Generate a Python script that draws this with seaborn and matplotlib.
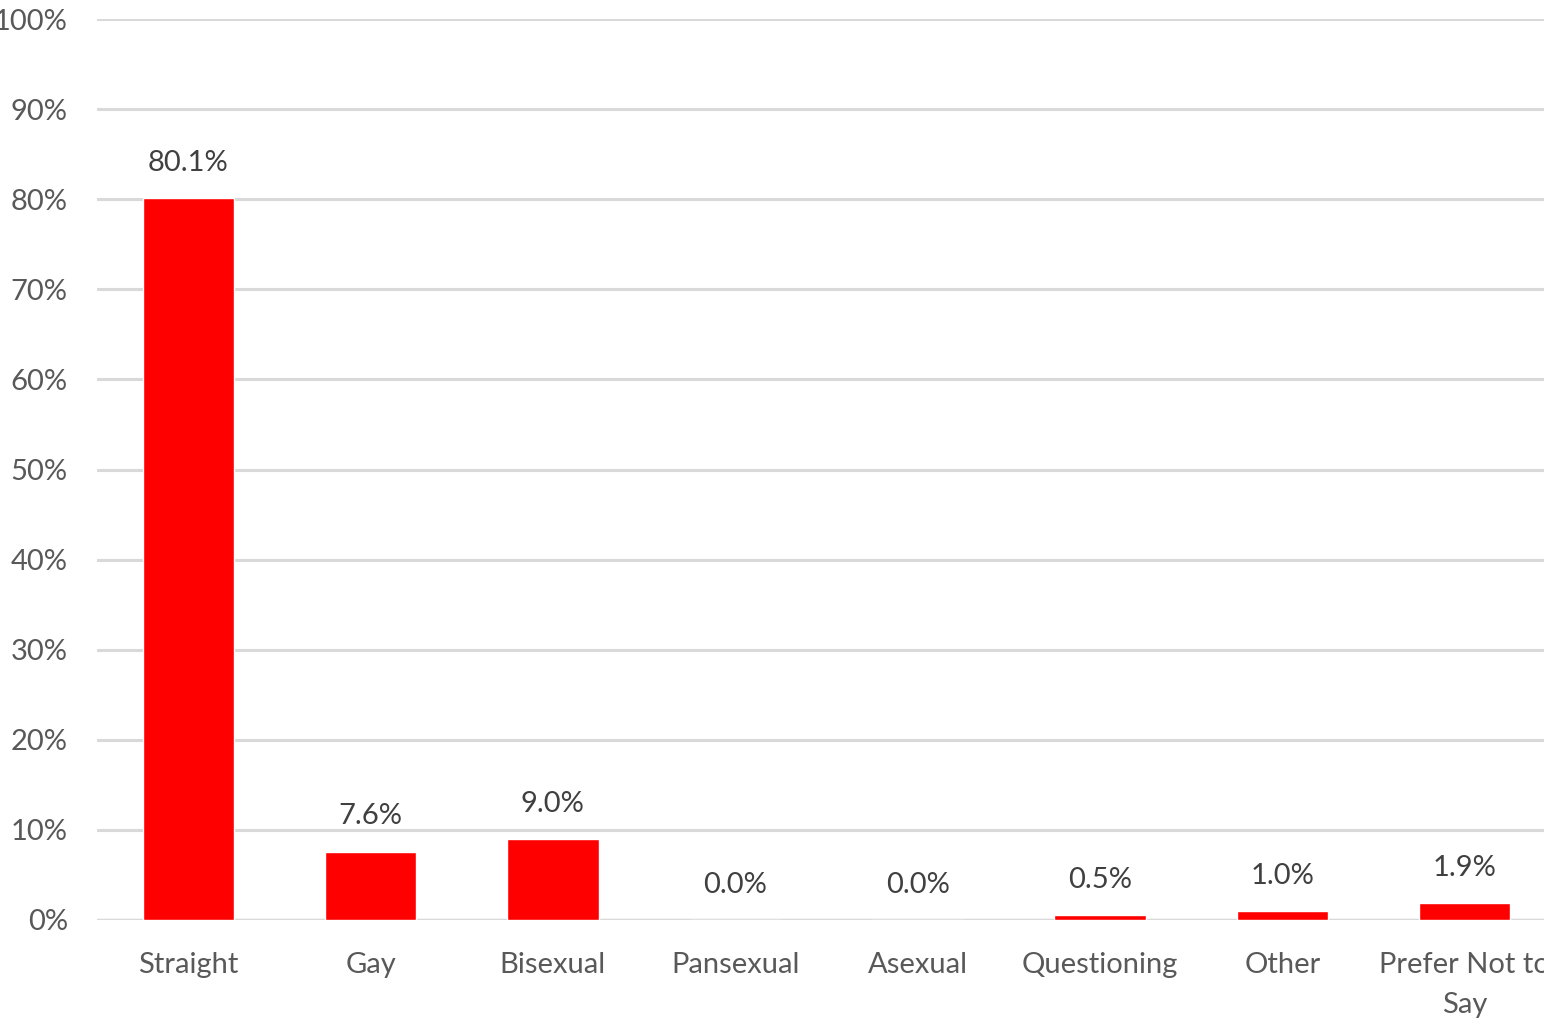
import matplotlib
matplotlib.use("Agg")
import matplotlib.pyplot as plt
import matplotlib.patheffects as pe
import seaborn as sns
import pandas as pd

categories = ["Straight", "Gay", "Bisexual", "Pansexual", "Asexual",
              "Questioning", "Other", "Prefer Not to\nSay"]
percents = [80.1, 7.6, 9.0, 0.0, 0.0, 0.5, 1.0, 1.9]
yticks = [0, 10, 20, 30, 40, 50, 60, 70, 80, 90, 100]

sns.set_style("white")
plt.rcParams['font.family'] = ['Lato', 'DejaVu Sans']

df = pd.DataFrame({'cat': categories, 'pct': percents})

fig = plt.figure(figsize=(15.62, 10.24), dpi=100)
W, H = 1562, 1024
ax = fig.add_axes([97 / W, 1 - 920 / H, (1556 - 97) / W, (920 - 19) / H])

sns.barplot(data=df, x='cat', y='pct', color='#ff0000', saturation=1,
            width=0.5, ax=ax, zorder=3)
for p in ax.patches:
    p.set_path_effects([pe.SimplePatchShadow(offset=(0, -1), shadow_rgbFace='#000000', alpha=0.25),
                        pe.Normal()])

ax.set_xlim(-0.5, 7.5)
ax.set_ylim(0, 100)
ax.set_yticks(yticks)
ax.set_yticklabels([f"{v}%" for v in yticks])
ax.yaxis.grid(True, color='#d9d9d9', linewidth=2.2, zorder=0)
ax.set_axisbelow(True)
for s in ax.spines.values():
    s.set_visible(False)
ax.axhline(0, color='#d9d9d9', linewidth=2.5, zorder=2)
ax.set_xlabel('')
ax.set_ylabel('')
ax.tick_params(axis='both', length=0, colors='#595959', labelsize=21)
ax.tick_params(axis='y', pad=21)
ax.tick_params(axis='x', pad=23)
for t in ax.get_xticklabels():
    t.set_linespacing(1.65)

for i, v in enumerate(percents):
    ax.annotate(f"{v:.1f}%", (i, v), xytext=(0, 16), textcoords='offset points',
                ha='center', va='bottom', fontsize=21, color='#404040')

# right edge of the source image is cut off
fig.patches.append(plt.Rectangle((1544 / W, 0), 1, 1, transform=fig.transFigure,
                                 facecolor='white', edgecolor='none', zorder=10))

fig.savefig('out.png', dpi=100)
